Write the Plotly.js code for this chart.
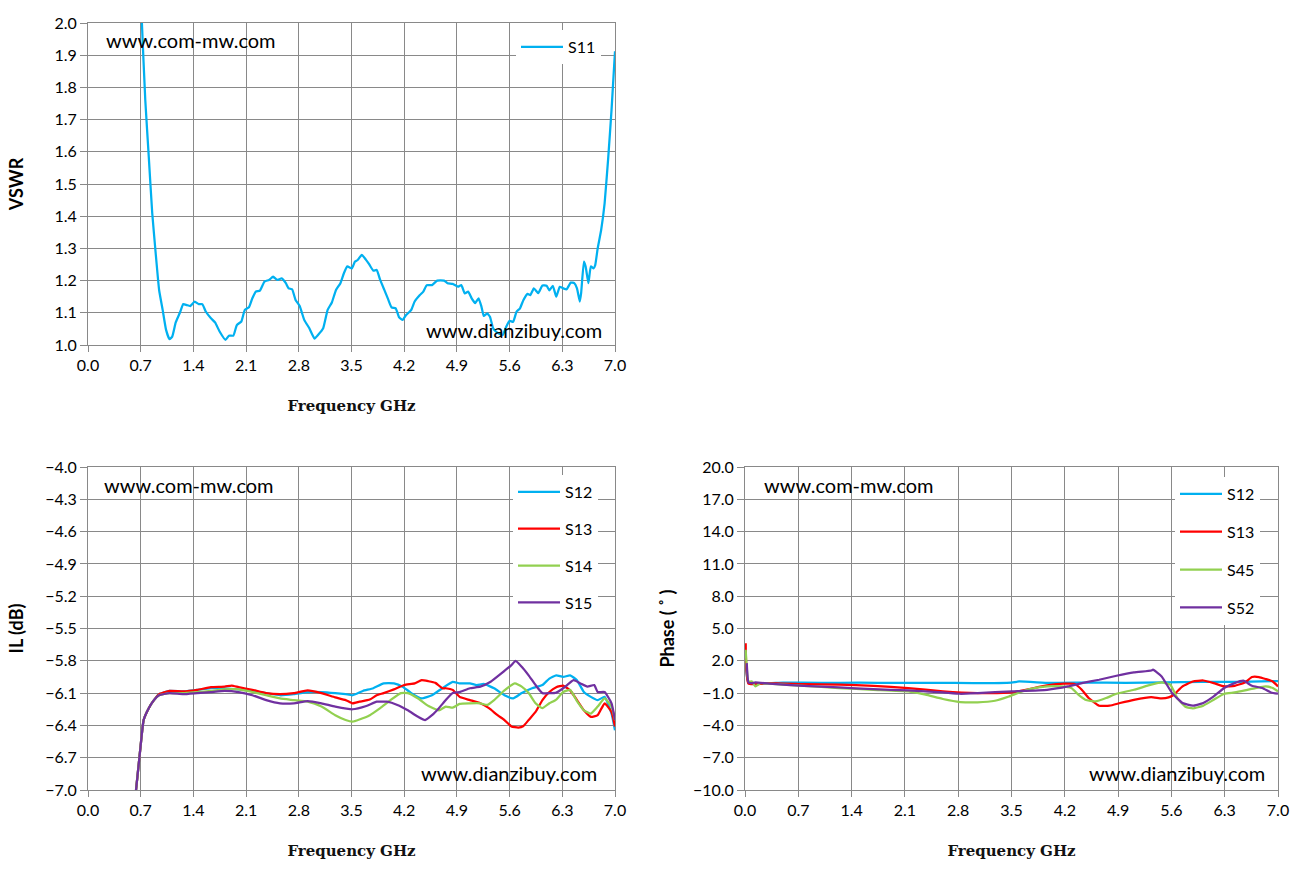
<!DOCTYPE html>
<html>
<head>
<meta charset="utf-8">
<script src="https://cdn.plot.ly/plotly-3.0.1.min.js"></script>
<style>
  html, body { margin: 0; padding: 0; background: #fff; }
  #chart { width: 1300px; height: 870px; }
</style>
</head>
<body>
<div id="chart"></div>
<script>
// ---- data ----
var freqS11 = [0.70, 0.716, 0.761, 0.807, 0.853, 0.899, 0.945, 0.991, 1.037, 1.083, 1.119, 1.165, 1.220, 1.266, 1.312, 1.358,
    1.417, 1.472, 1.518, 1.564, 1.633, 1.688, 1.748, 1.826, 1.872, 1.931, 1.977, 2.037, 2.083, 2.138, 2.183, 2.229,
    2.284, 2.344, 2.404, 2.459, 2.514, 2.573, 2.628, 2.665, 2.711, 2.757, 2.812, 2.872, 2.940, 3.009, 3.055, 3.124,
    3.183, 3.239, 3.294, 3.353, 3.399, 3.445, 3.505, 3.546, 3.582, 3.637, 3.688, 3.734, 3.789, 3.835, 3.881, 3.936,
    3.982, 4.032, 4.087, 4.133, 4.179, 4.225, 4.294, 4.339, 4.408, 4.454, 4.500, 4.569, 4.638, 4.729, 4.775, 4.844,
    4.913, 4.959, 5.005, 5.050, 5.096, 5.142, 5.188, 5.225, 5.257, 5.303, 5.339, 5.381, 5.417, 5.463, 5.509, 5.555,
    5.601, 5.647, 5.693, 5.738, 5.784, 5.839, 5.876, 5.922, 5.981, 6.036, 6.091, 6.128, 6.174, 6.220, 6.266, 6.312,
    6.358, 6.413, 6.459, 6.495, 6.532, 6.550, 6.587, 6.610, 6.647, 6.679, 6.715, 6.738, 6.770, 6.816, 6.862, 6.908,
    6.954, 7.0];
var vswrS11 = [2.12, 2.0, 1.76, 1.585, 1.41, 1.285, 1.17, 1.11, 1.047, 1.018, 1.026, 1.07, 1.10, 1.127, 1.124, 1.121,
    1.135, 1.127, 1.127, 1.104, 1.083, 1.070, 1.042, 1.016, 1.029, 1.029, 1.062, 1.073, 1.109, 1.117, 1.145, 1.166,
    1.169, 1.197, 1.202, 1.212, 1.202, 1.207, 1.192, 1.176, 1.173, 1.140, 1.121, 1.078, 1.052, 1.020, 1.031, 1.052,
    1.109, 1.132, 1.171, 1.192, 1.223, 1.244, 1.238, 1.259, 1.264, 1.280, 1.266, 1.251, 1.231, 1.233, 1.202, 1.171,
    1.145, 1.117, 1.114, 1.086, 1.078, 1.093, 1.109, 1.135, 1.155, 1.166, 1.186, 1.186, 1.200, 1.200, 1.192, 1.190,
    1.181, 1.186, 1.160, 1.166, 1.145, 1.130, 1.145, 1.120, 1.090, 1.098, 1.088, 1.052, 1.042, 1.035, 1.031, 1.057,
    1.075, 1.072, 1.104, 1.114, 1.140, 1.159, 1.155, 1.176, 1.161, 1.185, 1.184, 1.170, 1.184, 1.150, 1.181, 1.176,
    1.173, 1.194, 1.192, 1.176, 1.135, 1.161, 1.259, 1.244, 1.192, 1.244, 1.238, 1.249, 1.300, 1.357, 1.440, 1.575,
    1.730, 1.912];

var freqIL12 = [0.638, 0.693, 0.739, 0.807, 0.876, 0.945, 1.083, 1.266, 1.450, 1.633, 1.816, 2.000, 2.183, 2.367, 2.550,
    2.734, 2.917, 3.101, 3.284, 3.422, 3.514, 3.651, 3.789, 3.927, 4.064, 4.179, 4.294, 4.431, 4.569, 4.706, 4.844,
    4.936, 5.073, 5.165, 5.257, 5.394, 5.532, 5.647, 5.761, 5.899, 6.036, 6.128, 6.220, 6.312, 6.404, 6.495, 6.587,
    6.679, 6.770, 6.862, 6.954, 7.0];
var il12 = [-7.0, -6.63, -6.35, -6.24, -6.165, -6.11, -6.08, -6.085, -6.07, -6.055, -6.055, -6.065, -6.08, -6.10, -6.12,
    -6.11, -6.09, -6.09, -6.10, -6.11, -6.12, -6.08, -6.055, -6.01, -6.01, -6.04, -6.10, -6.15, -6.12, -6.055, -5.995,
    -6.01, -6.01, -6.025, -6.015, -6.055, -6.12, -6.15, -6.10, -6.055, -6.025, -5.965, -5.935, -5.95, -5.935, -5.98, -6.09,
    -6.135, -6.165, -6.135, -6.29, -6.445];

var freqIL13 = [0.638, 0.693, 0.739, 0.807, 0.876, 0.945, 1.083, 1.266, 1.450, 1.633, 1.816, 1.908, 2.000, 2.183, 2.367,
    2.550, 2.734, 2.917, 3.101, 3.284, 3.422, 3.514, 3.605, 3.743, 3.835, 3.927, 4.064, 4.202, 4.339, 4.431, 4.523,
    4.615, 4.706, 4.752, 4.844, 4.936, 5.073, 5.211, 5.326, 5.440, 5.532, 5.624, 5.716, 5.784, 5.853, 5.945, 6.036,
    6.128, 6.220, 6.312, 6.404, 6.495, 6.587, 6.679, 6.770, 6.862, 6.954, 7.0];
var il13 = [-7.0, -6.63, -6.35, -6.24, -6.165, -6.11, -6.08, -6.085, -6.07, -6.045, -6.04, -6.03, -6.045, -6.07, -6.10,
    -6.11, -6.10, -6.075, -6.10, -6.14, -6.165, -6.195, -6.18, -6.16, -6.12, -6.10, -6.065, -6.025, -6.01, -5.98, -5.99,
    -6.005, -6.055, -6.055, -6.07, -6.135, -6.165, -6.195, -6.24, -6.305, -6.35, -6.41, -6.42, -6.405, -6.35, -6.275, -6.165,
    -6.09, -6.045, -6.03, -6.075, -6.165, -6.26, -6.32, -6.305, -6.195, -6.275, -6.41];

var freqIL14 = [0.638, 0.693, 0.739, 0.807, 0.876, 0.945, 1.083, 1.266, 1.450, 1.633, 1.816, 2.000, 2.183, 2.367, 2.550,
    2.734, 2.917, 3.101, 3.284, 3.422, 3.514, 3.605, 3.743, 3.881, 4.018, 4.156, 4.248, 4.385, 4.523, 4.661, 4.752,
    4.844, 4.936, 5.073, 5.211, 5.303, 5.394, 5.532, 5.670, 5.761, 5.853, 5.945, 6.036, 6.128, 6.220, 6.312, 6.404,
    6.495, 6.587, 6.679, 6.770, 6.862, 6.954, 7.0];
var il14 = [-7.0, -6.63, -6.35, -6.24, -6.165, -6.12, -6.10, -6.10, -6.09, -6.08, -6.065, -6.065, -6.09, -6.12, -6.15,
    -6.165, -6.18, -6.225, -6.305, -6.35, -6.365, -6.345, -6.305, -6.24, -6.165, -6.10, -6.10, -6.15, -6.22, -6.26, -6.225,
    -6.235, -6.20, -6.195, -6.195, -6.21, -6.165, -6.075, -6.01, -6.04, -6.10, -6.195, -6.24, -6.195, -6.16, -6.09, -6.07,
    -6.175, -6.26, -6.29, -6.225, -6.15, -6.225, -6.35];

var freqIL15 = [0.638, 0.693, 0.739, 0.807, 0.876, 0.945, 1.083, 1.266, 1.450, 1.633, 1.816, 2.000, 2.183, 2.367, 2.550,
    2.734, 2.917, 3.101, 3.284, 3.514, 3.697, 3.835, 3.972, 4.110, 4.248, 4.385, 4.477, 4.569, 4.661, 4.752, 4.844,
    4.936, 5.073, 5.211, 5.348, 5.486, 5.624, 5.679, 5.761, 5.853, 5.945, 6.036, 6.220, 6.312, 6.450, 6.541, 6.633,
    6.725, 6.770, 6.862, 6.954, 7.0];
var il15 = [-7.0, -6.63, -6.35, -6.24, -6.165, -6.12, -6.10, -6.11, -6.10, -6.09, -6.08, -6.09, -6.12, -6.165, -6.195,
    -6.195, -6.175, -6.195, -6.225, -6.25, -6.22, -6.18, -6.18, -6.21, -6.26, -6.32, -6.35, -6.305, -6.24, -6.165, -6.10,
    -6.09, -6.055, -6.04, -5.995, -5.92, -5.84, -5.80, -5.855, -5.935, -6.025, -6.10, -6.095, -6.055, -5.98, -6.01, -6.04,
    -6.025, -6.09, -6.09, -6.195, -6.35];

var freqPh12 = [0.009, 0.046, 0.5, 1.0, 1.5, 2.0, 2.5, 3.0, 3.5, 3.6, 4.0, 4.5, 5.0, 5.5, 6.0, 6.5, 7.0];
var ph12 = [2.0, -0.05, -0.02, -0.05, -0.03, -0.06, -0.04, -0.07, -0.02, 0.08, -0.05, -0.02, -0.04, 0.0, 0.05, 0.04, 0.12];

var freqPh13 = [0.009, 0.046, 0.319, 0.775, 1.231, 1.687, 2.143, 2.599, 3.055, 3.511, 3.967, 4.195, 4.332, 4.423, 4.514,
    4.651, 4.788, 4.925, 5.107, 5.335, 5.472, 5.563, 5.632, 5.746, 5.882, 6.019, 6.156, 6.293, 6.430, 6.566, 6.658,
    6.749, 6.840, 6.931, 7.0];
var ph13 = [3.64, -0.13, -0.07, -0.16, -0.22, -0.32, -0.53, -0.84, -1.00, -0.94, -0.29, -0.13, -0.16, -0.69, -1.46,
    -2.17, -2.17, -1.92, -1.62, -1.37, -1.49, -1.40, -1.15, -0.38, 0.08, 0.17, -0.07, -0.38, -0.32, -0.01, 0.49,
    0.49, 0.30, 0.08, -0.38];

var freqPh45 = [0.009, 0.046, 0.091, 0.137, 0.205, 0.319, 0.775, 1.231, 1.687, 2.143, 2.371, 2.599, 2.827, 3.055, 3.283,
    3.466, 3.602, 3.739, 3.967, 4.150, 4.286, 4.378, 4.469, 4.606, 4.742, 4.879, 5.107, 5.335, 5.472, 5.586, 5.677,
    5.791, 5.882, 6.019, 6.156, 6.293, 6.430, 6.566, 6.703, 6.840, 6.931, 7.0];
var ph45 = [3.02, 0.08, 0.08, -0.38, -0.07, -0.13, -0.32, -0.53, -0.69, -0.84, -1.15, -1.55, -1.83, -1.86, -1.71,
    -1.31, -0.94, -0.63, -0.38, -0.38, -0.53, -1.15, -1.62, -1.77, -1.46, -1.06, -0.69, -0.22, -0.01, -0.22, -1.46,
    -2.30, -2.42, -2.17, -1.62, -1.06, -0.94, -0.75, -0.53, -0.38, -0.53, -0.84];

var freqPh52 = [0.023, 0.046, 0.091, 0.137, 0.319, 0.775, 1.231, 1.687, 2.143, 2.599, 2.827, 3.055, 3.511, 3.967, 4.241,
    4.423, 4.651, 4.879, 5.107, 5.335, 5.358, 5.472, 5.609, 5.746, 5.882, 6.019, 6.156, 6.293, 6.430, 6.544, 6.658,
    6.794, 6.908, 7.0];
var ph52 = [1.78, -0.01, -0.07, -0.01, -0.13, -0.32, -0.47, -0.63, -0.75, -0.94, -1.06, -1.00, -0.84, -0.69, -0.38,
    -0.07, 0.24, 0.61, 0.92, 1.10, 1.17, 0.55, -1.00, -1.92, -2.17, -1.92, -1.31, -0.53, -0.07, 0.15, -0.32,
    -0.53, -0.94, -1.06];

// ---- styling ----
var BLUE = '#00B0F0', RED = '#FF0000', GREEN = '#92D050', PURPLE = '#7030A0';
var GRID = '#898989';
var W = 1300, H = 870;

function px(x) { return x / W; }
function py(y) { return 1 - y / H; }

function line(x, y, name, color, xa, ya, legend) {
    return {
        x: x, y: y, name: name, type: 'scatter', mode: 'lines',
        line: { color: color, width: 2.25, shape: 'spline', smoothing: 0.4 },
        xaxis: xa, yaxis: ya, legend: legend, legendgroup: name + xa
    };
}

function freqAxis(domain, anchor) {
    return {
        domain: domain, anchor: anchor,
        range: [0, 7], tick0: 0, dtick: 0.7, tickformat: '.1f',
        showgrid: true, gridcolor: GRID, gridwidth: 1,
        showline: true, linecolor: GRID, mirror: true,
        ticks: 'outside', ticklen: 6, tickcolor: GRID,
        zeroline: false, fixedrange: true,
        title: {
            text: 'Frequency GHz', standoff: 27,
            font: { family: '"DejaVu Serif", serif', size: 15, weight: 'bold', color: '#111' }
        }
    };
}

function valAxis(domain, anchor, range, tick0, dtick, title, standoff) {
    return {
        domain: domain, anchor: anchor,
        range: range, tick0: tick0, dtick: dtick, tickformat: '.1f',
        showgrid: true, gridcolor: GRID, gridwidth: 1,
        showline: true, linecolor: GRID, mirror: true,
        ticks: 'outside', ticklen: 7, tickcolor: GRID,
        zeroline: false, fixedrange: true,
        title: {
            text: title, standoff: standoff,
            font: { family: 'Lato, "Noto Sans", sans-serif', size: 18, weight: 'bold', color: '#000' }
        }
    };
}

function legendAt(x, y, gap) {
    return {
        x: px(x), y: py(y), xanchor: 'left', yanchor: 'top',
        bgcolor: '#ffffff', borderwidth: 0,
        font: { family: 'Lato, sans-serif', size: 16, color: '#000' },
        tracegroupgap: gap, itemwidth: 42
    };
}

function mark(text, x, y, anchor) {
    return {
        text: text, xref: 'paper', yref: 'paper', x: px(x), y: py(y),
        xanchor: anchor, yanchor: 'middle', showarrow: false,
        font: { family: 'Lato, sans-serif', size: 20, color: '#000' }
    };
}

var data = [
    line(freqS11, vswrS11, 'S11', BLUE, 'x', 'y', 'legend'),

    line(freqIL12, il12, 'S12', BLUE, 'x2', 'y2', 'legend2'),
    line(freqIL13, il13, 'S13', RED, 'x2', 'y2', 'legend2'),
    line(freqIL14, il14, 'S14', GREEN, 'x2', 'y2', 'legend2'),
    line(freqIL15, il15, 'S15', PURPLE, 'x2', 'y2', 'legend2'),

    line(freqPh12, ph12, 'S12', BLUE, 'x3', 'y3', 'legend3'),
    line(freqPh13, ph13, 'S13', RED, 'x3', 'y3', 'legend3'),
    line(freqPh45, ph45, 'S45', GREEN, 'x3', 'y3', 'legend3'),
    line(freqPh52, ph52, 'S52', PURPLE, 'x3', 'y3', 'legend3')
];

var leftX = [px(88), px(615)];
var rightX = [px(745), px(1278)];
var topY = [py(345), py(23)];
var botY = [py(790), py(467)];

var layout = {
    width: W, height: H,
    margin: { l: 0, r: 0, t: 0, b: 0 },
    paper_bgcolor: '#ffffff', plot_bgcolor: '#ffffff',
    font: { family: 'Lato, "Noto Sans", sans-serif', size: 16, color: '#000' },
    showlegend: true,

    xaxis: freqAxis(leftX, 'y'),
    yaxis: valAxis(topY, 'x', [1, 2], 1, 0.1, 'VSWR', 26),
    xaxis2: freqAxis(leftX, 'y2'),
    yaxis2: valAxis(botY, 'x2', [-7, -4], -7, 0.3, 'IL (dB)', 16),
    xaxis3: freqAxis(rightX, 'y3'),
    yaxis3: valAxis(botY, 'x3', [-10, 20], -10, 3, 'Phase ( ˚ )', 13),

    legend: legendAt(516, 30, 13),
    legend2: legendAt(513, 475, 13),
    legend3: legendAt(1175, 477, 14),

    annotations: [
        mark('www.com-mw.com', 104, 40, 'left'),
        mark('www.dianzibuy.com', 604, 330, 'right'),
        mark('www.com-mw.com', 102, 485, 'left'),
        mark('www.dianzibuy.com', 599, 773, 'right'),
        mark('www.com-mw.com', 762, 485, 'left'),
        mark('www.dianzibuy.com', 1267, 773, 'right')
    ]
};

Plotly.newPlot('chart', data, layout, { displayModeBar: false, staticPlot: true });
</script>
</body>
</html>
